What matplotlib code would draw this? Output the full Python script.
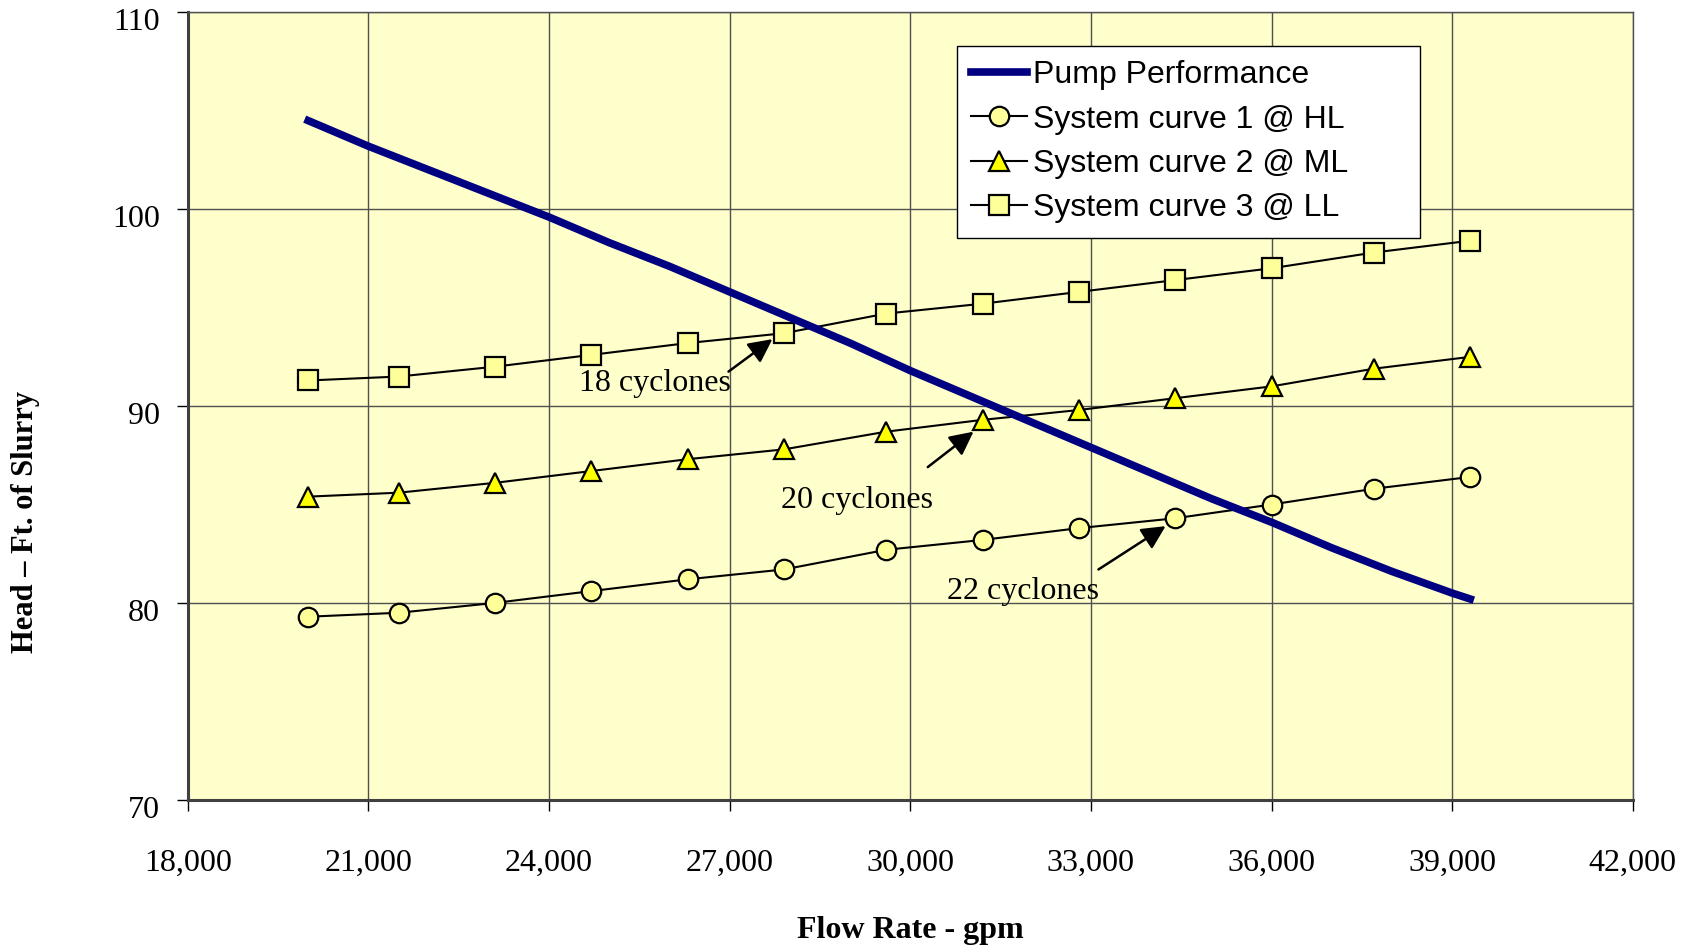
import matplotlib.pyplot as plt
import matplotlib.ticker as mticker
import matplotlib.transforms as mtrans

# pump performance curve (gpm, ft of slurry)
pump_flow = [20000, 21000, 22000, 23000, 24000, 25000, 26000, 27000, 28000, 29000,
             30000, 31000, 32000, 33000, 34000, 35000, 36000, 37000, 38000, 39000, 39300]
pump_head = [104.5, 103.2, 102.0, 100.8, 99.6, 98.3, 97.1, 95.8, 94.5, 93.2,
             91.8, 90.5, 89.2, 87.9, 86.6, 85.3, 84.1, 82.8, 81.6, 80.5, 80.2]

# system curves
sys_flow = [20000, 21500, 23100, 24700, 26300, 27900, 29600, 31200, 32800, 34400, 36000, 37700, 39300]
sys_hl = [79.3, 79.5, 80.0, 80.6, 81.2, 81.7, 82.7, 83.2, 83.8, 84.3, 85.0, 85.8, 86.4]
sys_ml = [85.4, 85.6, 86.1, 86.7, 87.3, 87.8, 88.7, 89.3, 89.8, 90.4, 91.0, 91.9, 92.5]
sys_ll = [91.3, 91.5, 92.0, 92.6, 93.2, 93.7, 94.7, 95.2, 95.8, 96.4, 97.0, 97.8, 98.4]

fig = plt.figure(figsize=(16.92, 9.51), dpi=100)
ax = fig.add_axes([0.111, 0.159, 0.854, 0.828])
ax.set_facecolor('#FFFFCC')

ax.plot(pump_flow, pump_head, color='#000080', lw=5.5, label='Pump Performance', zorder=4)
ax.plot(sys_flow, sys_hl, color='black', lw=1.5, marker='o', ms=14, mfc='#FFFF99',
        mec='black', mew=1.6, label='System curve 1 @ HL', zorder=3)
ax.plot(sys_flow, sys_ml, color='black', lw=1.5, marker='^', ms=15, mfc='#FFFF00',
        mec='black', mew=1.6, label='System curve 2 @ ML', zorder=3)
ax.plot(sys_flow, sys_ll, color='black', lw=1.5, marker='s', ms=14, mfc='#FFFF99',
        mec='black', mew=1.6, label='System curve 3 @ LL', zorder=3)

# cyclone annotations
notes = [('18 cyclones', (25760, 91.15), (26980, 91.75), (27710, 93.4)),
         ('20 cyclones', (29110, 85.2), (30290, 86.9), (31050, 88.7)),
         ('22 cyclones', (31870, 80.6), (33125, 81.7), (34240, 83.9))]
for txt, tpos, tail, head in notes:
    ax.text(tpos[0], tpos[1], txt, ha='center', va='center', fontsize=23,
            family='Liberation Serif', zorder=5)
    ax.annotate('', xy=head, xytext=tail,
                arrowprops=dict(arrowstyle='-|>', color='black', lw=1.8,
                                mutation_scale=36, shrinkA=0, shrinkB=0), zorder=5)

ax.set_xlim(18000, 42000)
ax.set_ylim(70, 110)
ax.set_xticks(range(18000, 42001, 3000))
ax.set_yticks(range(70, 111, 10))
ax.xaxis.set_major_formatter(mticker.FuncFormatter(lambda v, p: f'{int(v):,}'))
ax.grid(True, color='#505050', lw=1.0)
ax.set_axisbelow(True)

for s in ['top', 'right']:
    ax.spines[s].set_color('#505050')
    ax.spines[s].set_linewidth(1.0)
for s in ['left', 'bottom']:
    ax.spines[s].set_color('#404040')
    ax.spines[s].set_linewidth(2.2)

ax.tick_params(axis='x', direction='out', length=8, width=1, pad=27, labelsize=23)
ax.tick_params(axis='y', direction='out', length=8, width=1, pad=12, labelsize=23)
for lab in ax.get_xticklabels() + ax.get_yticklabels():
    lab.set_family('Liberation Serif')
# y labels sit a little below their ticks
off = mtrans.ScaledTranslation(0, -5 / 72, fig.dpi_scale_trans)
for lab in ax.get_yticklabels():
    lab.set_transform(lab.get_transform() + off)

ax.set_xlabel('Flow Rate - gpm', fontsize=23, fontweight='bold', family='Liberation Serif', labelpad=28)
fig.text(0.015, 0.451, 'Head \u2013 Ft. of Slurry', rotation=90, fontsize=22, fontweight='bold',
         family='Liberation Serif', ha='center', va='center')

leg = ax.legend(loc='upper left', bbox_to_anchor=(0.532, 0.9575, 0.321, 0), mode='expand',
                borderaxespad=0, prop={'family': 'Liberation Sans', 'size': 23}, frameon=True,
                fancybox=False, edgecolor='black', framealpha=1, handlelength=1.75,
                labelspacing=0.45, handletextpad=0.2, borderpad=0.45)
leg.get_frame().set_linewidth(1.0)

fig.savefig('out.png', dpi=100)
